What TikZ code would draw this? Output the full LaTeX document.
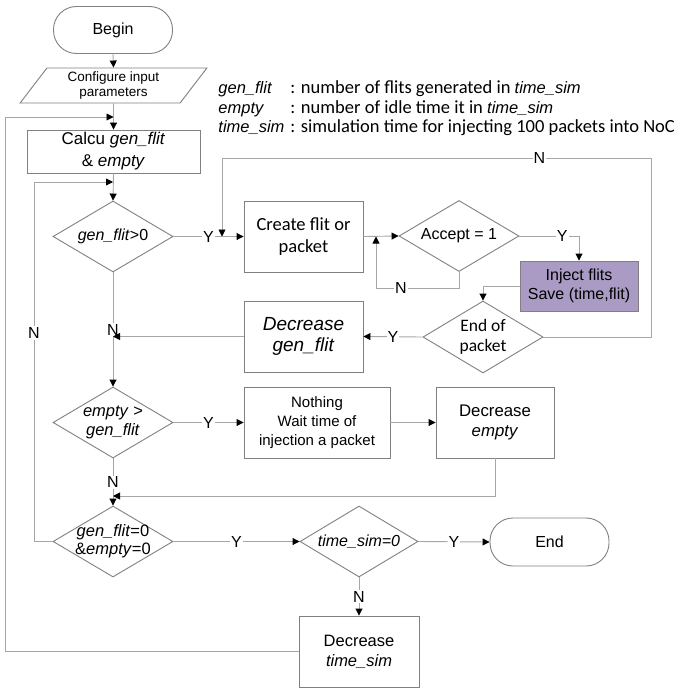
\documentclass[tikz,border=0pt]{standalone}
\usepackage{fontspec}
\setmainfont{Liberation Sans}
\newfontfamily\calib{Carlito}
\usetikzlibrary{positioning,arrows.meta,shapes.geometric}
\definecolor{injectfill}{RGB}{170,155,196}
\tikzset{chart/.style={x=1pt,y=-1pt,line width=0.9pt,font=\fontsize{16}{19}\selectfont},
    terminal/.style={rectangle,rounded corners=23pt,draw=gray,minimum width=119pt,minimum height=47pt},
    process/.style={rectangle,draw=gray,minimum width=119pt,minimum height=71pt,align=center,inner sep=2pt},
    io/.style={trapezium,trapezium left angle=58,trapezium right angle=122,trapezium stretches=true,
        draw=gray,minimum width=187pt,minimum height=35pt,align=center,inner sep=1pt},
    decision/.style={diamond,draw=gray,minimum width=120pt,minimum height=71pt,inner sep=0pt},
    dtext/.style={align=center,inner sep=0pt},
    flow/.style={draw=gray!70,-{Triangle[length=7pt,width=7pt,color=black]}},
    lab/.style={fill=white,inner sep=1pt,font=\fontsize{16}{16}\selectfont}}
\begin{document}
\begin{tikzpicture}[chart]
\useasboundingbox (0,0) rectangle (676,690);
\node[terminal] (begin) at (113,30) {Begin};
\node[io,font=\fontsize{13.5}{15.5}\selectfont] (config) at (113.5,85.5) {Configure input\\parameters};
\node[process,minimum width=173pt,minimum height=43pt,font=\fontsize{17}{22}\selectfont] (calcu) at (113.5,151.5) {Calcu \textit{gen\_flit}\\\& \textit{empty}};
\node[decision,label={[dtext]center:\textit{gen\_flit}>0}] (genpos) at (113,236.5) {};
\node[process,font=\calib\fontsize{18.5}{22}\selectfont] (create) at (303.5,236.5) {Create flit or\\packet};
\node[decision,label={[dtext]center:Accept = 1}] (accept) at (459,236) {};
\node[process,fill=injectfill,minimum width=118pt,minimum height=50pt] (inject) at (579,286) {Inject flits\\Save (time,flit)};
\node[decision,minimum height=72pt,label={[dtext,font=\calib\fontsize{17.5}{20}\selectfont]center:End of\\packet}] (endpkt) at (483,337) {};
\node[process,font=\fontsize{19}{21}\selectfont] (decgen) at (303.5,336.5) {\textit{Decrease}\\\textit{gen\_flit}};
\node[decision,label={[dtext,font=\fontsize{16.5}{19}\selectfont]center:\textit{empty} >\\\textit{gen\_flit}}] (emptygt) at (113,422.5) {};
\node[process,minimum width=146pt,font=\fontsize{15}{19}\selectfont] (nothing) at (317,422.5) {Nothing\\Wait time of\\injection a packet};
\node[process,minimum width=118pt,font=\fontsize{16.8}{20}\selectfont] (decempty) at (495,422.5) {Decrease\\\textit{empty}};
\node[decision,label={[dtext,font=\fontsize{16.5}{18}\selectfont]center:\textit{gen\_flit}=0\\\&\textit{empty}=0}] (genzero) at (113,541.5) {};
\node[decision,minimum width=118pt,label={[dtext]center:\textit{time\_sim=0}}] (simzero) at (359,541.5) {};
\node[terminal,minimum height=48pt] (endnode) at (549.5,542) {End};
\node[process,minimum width=120pt,font=\fontsize{16.5}{20}\selectfont] (decsim) at (359,651.5) {Decrease\\\textit{time\_sim}};
\node[anchor=west,inner sep=0pt,font=\fontsize{16.5}{19.5}\selectfont] (legend) at (218,109.5) {%
  \begin{tabular}{@{}l@{\hspace{6pt}}l@{}}
  \textit{gen\_flit} & {\calib\fontsize{18.5}{19.5}\selectfont : number of flits generated in }\textit{time\_sim}\\
  \textit{empty} & {\calib\fontsize{18.5}{19.5}\selectfont : number of idle time it in }\textit{time\_sim}\\
  \textit{time\_sim} & {\calib\fontsize{18.5}{19.5}\selectfont : simulation time for injecting 100 packets into NoC}
  \end{tabular}};
\coordinate (outer) at (5,117);
\coordinate (inner) at (34,182);
\coordinate (toploop) at (651,158);
\coordinate (topin) at (222,236.5);
\coordinate (nloop) at (376,288);
\coordinate (merge) at (113,496);
\draw[flow] (begin.south) -- (config.north);
\draw[flow] (config.south) -- (calcu.north);
\draw[flow] (decsim.west) -| (outer) -- (outer -| calcu.north);
\draw[flow] (calcu.south) -- (genpos.north);
\draw[flow] (genzero.west) -| node[lab,pos=.79]{N} (inner) -- (inner -| genpos.north);
\draw[flow] (genpos.east) -- node[lab]{Y} (create.west);
\draw[flow] (endpkt.east) -| (toploop) -| node[lab,pos=.13]{N} (topin);
\draw[flow] (create.east) -- (accept.west);
\draw[flow] (accept.south) |- node[lab,pos=.85]{N} (nloop) -- (nloop |- create.east);
\draw[flow] (accept.east) -| node[lab,pos=.36]{Y} (inject.north);
\draw[flow] (inject.west) -| (endpkt.north);
\draw[flow] (endpkt.west) -- node[lab]{Y} (decgen.east);
\draw[flow] (genpos.south) -- node[lab]{N} (emptygt.north);
\draw[flow] (decgen.west) -- (decgen.west -| genpos.south);
\draw[flow] (emptygt.east) -- node[lab]{Y} (nothing.west);
\draw[flow] (nothing.east) -- (decempty.west);
\draw[flow] (emptygt.south) -- node[lab]{N} (genzero.north);
\draw[flow] (decempty.south) |- (merge);
\draw[flow] (genzero.east) -- node[lab]{Y} (simzero.west);
\draw[flow] (simzero.east) -- node[lab]{Y} (endnode.west);
\draw[flow] (simzero.south) -- node[lab]{N} (decsim.north);
\end{tikzpicture}
\end{document}
